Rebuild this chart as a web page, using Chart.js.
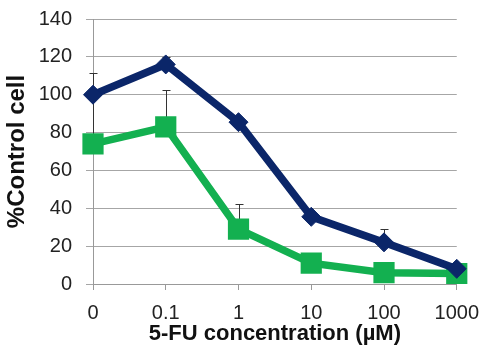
<!DOCTYPE html>
<html>
<head>
<meta charset="utf-8">
<script src="https://cdn.jsdelivr.net/npm/chart.js@4"></script>
<style>
  html, body { margin: 0; padding: 0; background: #fff; }
  #wrap { width: 490px; height: 354px; position: relative; }
</style>
</head>
<body>
<div id="wrap"><canvas id="c"></canvas></div>
<script>
// données
const concentrations = ['0', '0.1', '1', '10', '100', '1000'];
const seriesNavy = [100, 116, 85.5, 35.5, 22, 8];
const seriesGreen = [74, 83, 29, 11, 6, 5.5];
// bornes hautes des barres d'erreur (null = pas de barre)
const errNavy = [111.5, 120, null, null, 29, null];
const errGreen = [99, 102.5, 42.5, null, null, null];
const yTicks = [0, 20, 40, 60, 80, 100, 120, 140];

const NAVY = '#0b2669';
const GREEN = '#13b050';
const FONT = "'Liberation Sans', Arial, sans-serif";

// barres d'erreur (seulement vers le haut)
const errorBars = {
  id: 'errorBars',
  beforeDatasetsDraw(chart) {
    const { ctx, scales: { x, y } } = chart;
    ctx.save();
    ctx.strokeStyle = '#333';
    ctx.lineWidth = 1;
    [[seriesNavy, errNavy], [seriesGreen, errGreen]].forEach(([vals, errs]) => {
      errs.forEach((top, i) => {
        if (top == null) return;
        const px = Math.round(x.getPixelForValue(i)) + 0.5;
        const y0 = y.getPixelForValue(vals[i]);
        const y1 = Math.round(y.getPixelForValue(top)) + 0.5;
        ctx.beginPath();
        ctx.moveTo(px, y0);
        ctx.lineTo(px, y1);
        ctx.moveTo(px - 4, y1);
        ctx.lineTo(px + 4, y1);
        ctx.stroke();
      });
    });
    ctx.restore();
  }
};

new Chart(document.getElementById('c'), {
  type: 'line',
  data: {
    labels: concentrations,
    datasets: [
      {
        label: 'navy',
        data: seriesNavy,
        borderColor: NAVY,
        backgroundColor: NAVY,
        borderWidth: 7.5,
        pointStyle: 'rectRot',
        pointRadius: 9.5,
        pointBorderWidth: 1,
        tension: 0,
      },
      {
        label: 'green',
        data: seriesGreen,
        borderColor: GREEN,
        backgroundColor: GREEN,
        borderWidth: 7.5,
        pointStyle: 'rect',
        pointRadius: 15,
        pointBorderWidth: 0,
        tension: 0,
      }
    ]
  },
  options: {
    animation: false,
    responsive: true,
    maintainAspectRatio: false,
    layout: { padding: { top: 19, right: 27, left: 0, bottom: 0 } },
    plugins: {
      legend: { display: false },
      tooltip: { enabled: false }
    },
    scales: {
      x: {
        offset: false,
        grid: { display: true, drawOnChartArea: false, drawTicks: true, tickLength: 6, color: '#999' },
        border: { color: '#999', width: 1 },
        ticks: { color: '#222', font: { family: FONT, size: 20 }, padding: 11, maxRotation: 0 },
        title: { display: true, text: '5-FU concentration (µM)', color: '#111',
                 font: { family: FONT, size: 22, weight: 'bold' }, padding: { top: 0, bottom: 7 } },
        afterFit: s => { s.height = 70; }
      },
      y: {
        min: 0, max: 140,
        afterBuildTicks: s => { s.ticks = yTicks.map(v => ({ value: v })); },
        grid: { color: '#a6a6a6', tickLength: 7 },
        border: { color: '#999', width: 1 },
        ticks: { color: '#222', font: { family: FONT, size: 20 }, padding: 14 },
        title: { display: true, text: '%Control cell', color: '#111',
                 font: { family: FONT, size: 24, weight: 'bold' }, padding: { top: 3, bottom: 0 } },
        afterFit: s => { s.width = 93; s.paddingTop = 0; s.paddingBottom = 0; }
      }
    }
  },
  plugins: [errorBars]
});
</script>
</body>
</html>
